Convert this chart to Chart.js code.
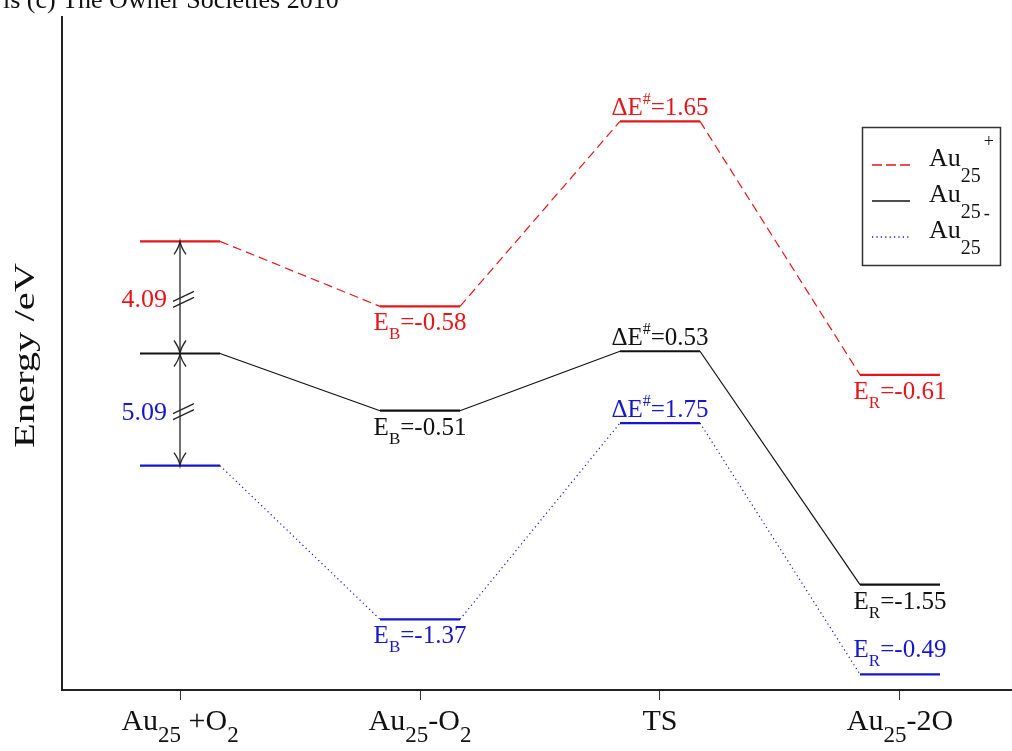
<!DOCTYPE html>
<html><head><meta charset="utf-8">
<script src="https://cdn.jsdelivr.net/npm/chart.js@4.4.0/dist/chart.umd.min.js"></script>
<style>html,body{margin:0;padding:0;background:#fff;} #wrap{position:relative;width:1012px;height:751px;}</style>
</head><body><div id="wrap"><canvas id="c"></canvas></div>
<script>
// ---- data ----
const categories = ["Au_{25} +O_{2}", "Au_{25}-O_{2}", "TS", "Au_{25}-2O"];
const seriesNames = ["Au_{25}^{+}", "Au_{25}", "Au_{25}^{-}"];
const cationEnergy = [1.00, 0.42, 2.07, -0.19];
const neutralEnergy = [0.00, -0.51, 0.02, -2.06];
const anionEnergy = [-1.00, -2.37, -0.62, -2.86];
const cationLabels = ["", "E_{B}=-0.58", "ΔE^{#}=1.65", "E_{R}=-0.61"];
const neutralLabels = ["", "E_{B}=-0.51", "ΔE^{#}=0.53", "E_{R}=-1.55"];
const anionLabels = ["", "E_{B}=-1.37", "ΔE^{#}=1.75", "E_{R}=-0.49"];
const gapLabels = ["4.09", "5.09"];
const sourceNote = "ls (c) The Owner Societies 2010";
const yTitle = "Energy /eV";

// ---- style ----
const COLORS = ['rgb(228,22,26)', '#111111', 'rgb(22,22,206)'];
const CONNECT_DASH = [[9,5], [], [1.2,3.2]];
const LEGEND_DASH = [[10,4], [], [1.2,3.2]];
const LABEL_SIDE = [['', 'below','above','below'], ['', 'below','above','below'], ['', 'below','above','above']];
const HALF = 1/6;
const SERIF = '"Liberation Serif", "Times New Roman", serif';

const energies = [cationEnergy, neutralEnergy, anionEnergy];
const labels = [cationLabels, neutralLabels, anionLabels];

function levelPoints(vals){ const pts=[]; vals.forEach((v,i)=>{pts.push({x:i-HALF,y:v});pts.push({x:i+HALF,y:v});}); return pts; }

function parseRich(s){
  const out=[]; let i=0; let buf='';
  while(i<s.length){
    if((s[i]==='_'||s[i]==='^') && s[i+1]==='{'){
      if(buf){out.push({t:buf,m:0});buf='';}
      const end=s.indexOf('}',i);
      out.push({t:s.slice(i+2,end), m: s[i]==='_'?1:2});
      i=end+1;
    } else {buf+=s[i]; i++;}
  }
  if(buf) out.push({t:buf,m:0});
  return out;
}
function drawRich(ctx, s, x, y, align, size, color, opt){
  opt = opt||{};
  const subSize = opt.subSize||Math.round(size*0.68), supSize = opt.supSize||Math.round(size*0.66);
  const subDy = opt.subDy!=null?opt.subDy:size*0.38, supDy = opt.supDy!=null?opt.supDy:-size*0.42;
  const supDx = opt.supDx||0;
  const parts=parseRich(s);
  const fnt = p => (p.m===0?size:p.m===1?subSize:supSize)+'px '+SERIF;
  let w=0;
  parts.forEach(p=>{ctx.font=fnt(p); p.w=ctx.measureText(p.t).width + (p.m===2?supDx:0); w+=p.w;});
  let cx = align==='center'? x-w/2 : align==='right'? x-w : x;
  ctx.fillStyle=color; ctx.textAlign='left'; ctx.textBaseline='alphabetic';
  parts.forEach(p=>{ctx.font=fnt(p); ctx.fillText(p.t, cx + (p.m===2?supDx:0), y+(p.m===1?subDy:p.m===2?supDy:0)); cx+=p.w;});
  return w;
}
function arrowHead(ctx, x, y, dir){ // dir -1 = pointing up, +1 = pointing down
  ctx.beginPath();
  ctx.moveTo(x-6, y - dir*13); ctx.quadraticCurveTo(x-1, y - dir*6, x, y);
  ctx.quadraticCurveTo(x+1, y - dir*6, x+6, y - dir*13);
  ctx.stroke();
}

const annot = {
  id:'annot',
  afterDraw(chart){
    const {ctx, scales:{x, y}, chartArea} = chart;
    ctx.save();
    // source note (cropped at the top edge)
    ctx.font = '26px '+SERIF; ctx.fillStyle='#111'; ctx.textAlign='left'; ctx.textBaseline='alphabetic';
    ctx.fillText(sourceNote, 3, 8);

    // level labels
    energies.forEach((vals, s)=>{
      vals.forEach((v,i)=>{
        const txt = labels[s][i]; if(!txt) return;
        const px = x.getPixelForValue(i), py = y.getPixelForValue(v);
        const side = LABEL_SIDE[s][i];
        let by;
        if(side==='below') by = py + 24;
        else by = txt.indexOf('_{')>=0 ? py - 17 : py - 6;
        drawRich(ctx, txt, px, by, 'center', 25, COLORS[s], {subSize:17, subDy:9, supSize:16, supDy:-11});
      });
    });

    // gap arrows with break marks
    const ax = x.getPixelForValue(0);
    const pairs = [[cationEnergy[0], neutralEnergy[0], COLORS[0]], [neutralEnergy[0], anionEnergy[0], COLORS[2]]];
    ctx.strokeStyle='#222'; ctx.lineWidth=1.3;
    pairs.forEach((p,k)=>{
      const y1 = y.getPixelForValue(p[0]), y2 = y.getPixelForValue(p[1]);
      ctx.beginPath(); ctx.moveTo(ax, y1); ctx.lineTo(ax, y2); ctx.stroke();
      arrowHead(ctx, ax, y1, -1); arrowHead(ctx, ax, y2, 1);
      const my = (y1+y2)/2 + 2;
      ctx.beginPath();
      [-3,3].forEach(o=>{ ctx.moveTo(ax-7, my+5+o); ctx.lineTo(ax+14, my-5+o); });
      ctx.stroke();
      drawRich(ctx, gapLabels[k], ax-13, (y1+y2)/2 + 10, 'right', 26, p[2]);
    });

    // x tick labels
    categories.forEach((c,i)=>{
      drawRich(ctx, c, x.getPixelForValue(i), 730, 'center', 30, '#111', {subSize:23, subDy:12});
    });

    // y title (stretched along its length)
    ctx.save();
    ctx.translate(34, (chartArea.top+chartArea.bottom)/2 + 2);
    ctx.rotate(-Math.PI/2); ctx.scale(1.35, 1);
    ctx.font = '30px '+SERIF; ctx.fillStyle='#111'; ctx.textAlign='center'; ctx.textBaseline='alphabetic';
    ctx.fillText(yTitle, 0, 0);
    ctx.restore();

    // legend
    const lx = chartArea.right - 150, ly = 127;
    ctx.strokeStyle='#333'; ctx.lineWidth=1.5;
    ctx.strokeRect(lx+0.5, ly+0.5, 138, 138);
    seriesNames.forEach((n,s)=>{
      const ry = ly + 38 + s*36;
      ctx.strokeStyle = COLORS[s]; ctx.lineWidth = 1.3; ctx.setLineDash(LEGEND_DASH[s]);
      ctx.beginPath(); ctx.moveTo(lx+10, ry); ctx.lineTo(lx+48, ry); ctx.stroke();
      ctx.setLineDash([]);
      drawRich(ctx, n, lx+67, ry+1, 'left', 26, '#111', {subSize:20, subDy:16, supSize:18, supDy:-19, supDx:3});
    });
    ctx.restore();
  }
};

const datasets = energies.map((vals, s)=>({
  label: seriesNames[s],
  data: levelPoints(vals),
  borderColor: COLORS[s],
  borderWidth: 2,
  pointRadius: 0,
  tension: 0,
  segment: {
    borderWidth: c => (c.p0DataIndex % 2 === 0 ? 2.2 : 1.2),
    borderDash: c => (c.p0DataIndex % 2 === 0 ? [] : CONNECT_DASH[s])
  }
}));

new Chart(document.getElementById('c'), {
  type:'line',
  data:{datasets},
  options:{
    responsive:true, maintainAspectRatio:false, animation:false,
    layout:{padding:{top:17,left:0,right:0,bottom:0}},
    plugins:{legend:{display:false}, tooltip:{enabled:false}},
    scales:{
      x:{type:'linear', min:-0.4917, max:3.4667,
        afterBuildTicks:sc=>{sc.ticks=categories.map((c,i)=>({value:i}));},
        afterFit:sc=>{sc.height=61;},
        ticks:{display:false},
        grid:{display:true, drawOnChartArea:false, drawTicks:true, tickLength:10, color:'#333', lineWidth:1},
        border:{display:true, color:'#222', width:2}},
      y:{type:'linear', min:-3, max:3,
        afterFit:sc=>{sc.width=62;},
        ticks:{display:false},
        grid:{display:false},
        border:{display:true, color:'#222', width:2}}
    }
  },
  plugins:[annot]
});
</script>
</body></html>
